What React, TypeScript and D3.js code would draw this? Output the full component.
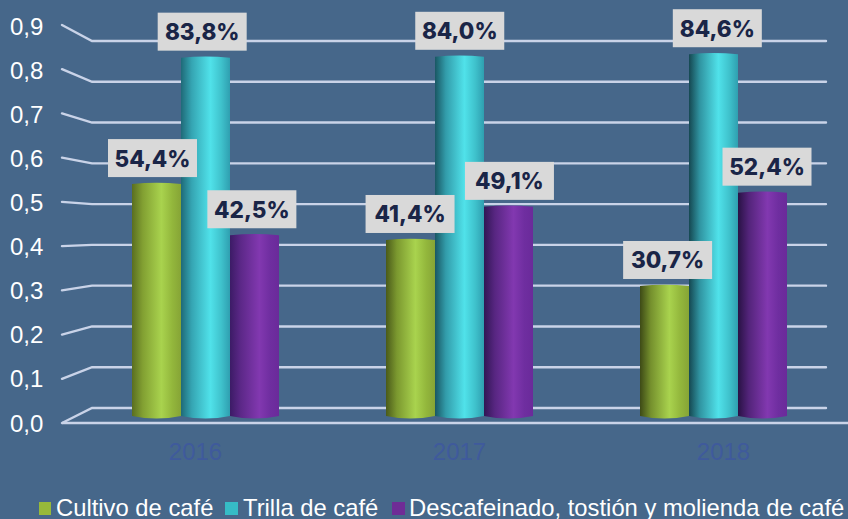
import React from "react";
import * as d3 from "d3";

const years = ["2016", "2017", "2018"];
const seriesNames = ["Cultivo de café", "Trilla de café", "Descafeinado, tostión y molienda de café"];
const cultivo = [0.544, 0.414, 0.307];
const trilla = [0.838, 0.84, 0.846];
const descafeinado = [0.425, 0.491, 0.524];
const ticks = [0, 0.1, 0.2, 0.3, 0.4, 0.5, 0.6, 0.7, 0.8, 0.9];

const seriesValues = [cultivo, trilla, descafeinado];
const legendColors = ["#97b93a", "#36bcc6", "#6f2c96"];
const gradients = [
  ["#5a6e20", "#82a032", "#a9d34e", "#93b73c", "#86a436"],
  ["#1f6a78", "#35a5b3", "#50e2ea", "#3fc2cc", "#2f9fb0"],
  ["#3c1b66", "#5c2888", "#8238b0", "#6f2ea0", "#6a2a9a"],
];

const width = 848;
const height = 519;
const gridColor = "#c9d3e8";

export default function App() {
  const yFront = d3.scaleLinear().domain([0, 0.9]).range([423, 25]);
  const yBack = d3.scaleLinear().domain([0, 0.9]).range([408, 41]);
  const yTickText = d3.scaleLinear().domain([0, 0.9]).range([431.5, 35]);
  const yBar = d3.scaleLinear().domain([0, 1]).range([418, -12]);
  const xGroup = d3.scaleBand().domain(years).range([78.5, 840.5]);
  const xYear = d3.scaleBand().domain(years).range([63.5, 855.5]);
  // labels drift a little to the right of their bars, the chart has perspective
  const xLabel = d3.scaleLinear().domain([156.5, 762.5]).range([152.5, 767]);
  const barW = 49;
  const tickFmt = (d: number) => d3.format(".1f")(d).replace(".", ",");
  const pctFmt = (d: number) => d3.format(".1f")(d * 100).replace(".", ",") + "%";
  const barX = (si: number, yi: number) =>
    xGroup(years[yi])! + xGroup.bandwidth() / 2 - 1.5 * barW + si * barW;

  return (
    <svg
      width={width}
      height={height}
      style={{ position: "absolute", left: 0, top: 0, display: "block" }}
      fontFamily="'Liberation Sans', Arial, sans-serif"
    >
      <defs>
        {gradients.map((g, si) =>
          years.map((year, yi) => (
            <linearGradient key={year} id={`cyl${si}-${yi}`} x1="0" x2="1" y1="0" y2="0">
              <stop offset="0" stopColor={d3.color(g[0])!.darker(yi * 0.55).formatHex()} />
              <stop offset="0.22" stopColor={d3.color(g[1])!.darker(yi * 0.15).formatHex()} />
              <stop offset="0.6" stopColor={g[2]} />
              <stop offset="0.82" stopColor={g[3]} />
              <stop offset="1" stopColor={g[4]} />
            </linearGradient>
          ))
        )}
      </defs>
      <rect width={width} height={height} fill="#46678a" />

      {ticks.map((t) => (
        <g key={t}>
          <path
            d={`M62,${yFront(t)}L92,${yBack(t)}H826`}
            fill="none"
            stroke={gridColor}
            strokeWidth={2.4}
            strokeLinecap="round"
          />
          <text x={10} y={yTickText(t)} fontSize={24} fill="#fff">
            {tickFmt(t)}
          </text>
        </g>
      ))}
      <line x1={62} x2={848} y1={yFront(0)} y2={yFront(0)} stroke={gridColor} strokeWidth={2.4} />

      {years.map((year) => (
        <text
          key={year}
          x={xYear(year)! + xYear.bandwidth() / 2}
          y={460}
          textAnchor="middle"
          fontSize={24}
          fill="#3f5a9c"
        >
          {year}
        </text>
      ))}

      {seriesValues.map((vals, si) =>
        vals.map((v, yi) => {
          const x = barX(si, yi);
          const top = yBar(v);
          const bottom = yBar(0) - 2;
          return (
            <path
              key={`${si}-${yi}`}
              d={`M${x},${top}Q${x + barW / 2},${top - 2.5} ${x + barW},${top}V${bottom}Q${x + barW / 2},${bottom + 5} ${x},${bottom}Z`}
              fill={`url(#cyl${si}-${yi})`}
            />
          );
        })
      )}

      {seriesValues.map((vals, si) =>
        vals.map((v, yi) => {
          const boxW = 89;
          const boxH = 38;
          const cx = xLabel(barX(si, yi) + barW / 2);
          const bottom = yBar(v) - 7;
          return (
            <g key={`l${si}-${yi}`}>
              <rect x={cx - boxW / 2} y={bottom - boxH} width={boxW} height={boxH} fill="#d9d9d9" />
              <text
                x={cx}
                y={bottom - boxH / 2 + 8.5}
                textAnchor="middle"
                fontFamily="Inter, sans-serif"
                fontWeight={800}
                fontSize={22.5}
                fill="#1a2547"
              >
                {pctFmt(v)}
              </text>
            </g>
          );
        })
      )}

      <rect x={39} y={502} width={12} height={13} fill={legendColors[0]} />
      <text x={56} y={516} fontSize={23.8} fill="#fff">{seriesNames[0]}</text>
      <rect x={225} y={502} width={13} height={13} fill={legendColors[1]} />
      <text x={243} y={516} fontSize={23.8} fill="#fff">{seriesNames[1]}</text>
      <rect x={392} y={502} width={13} height={13} fill={legendColors[2]} />
      <text x={409} y={516} fontSize={23.8} fill="#fff">{seriesNames[2]}</text>
    </svg>
  );
}
